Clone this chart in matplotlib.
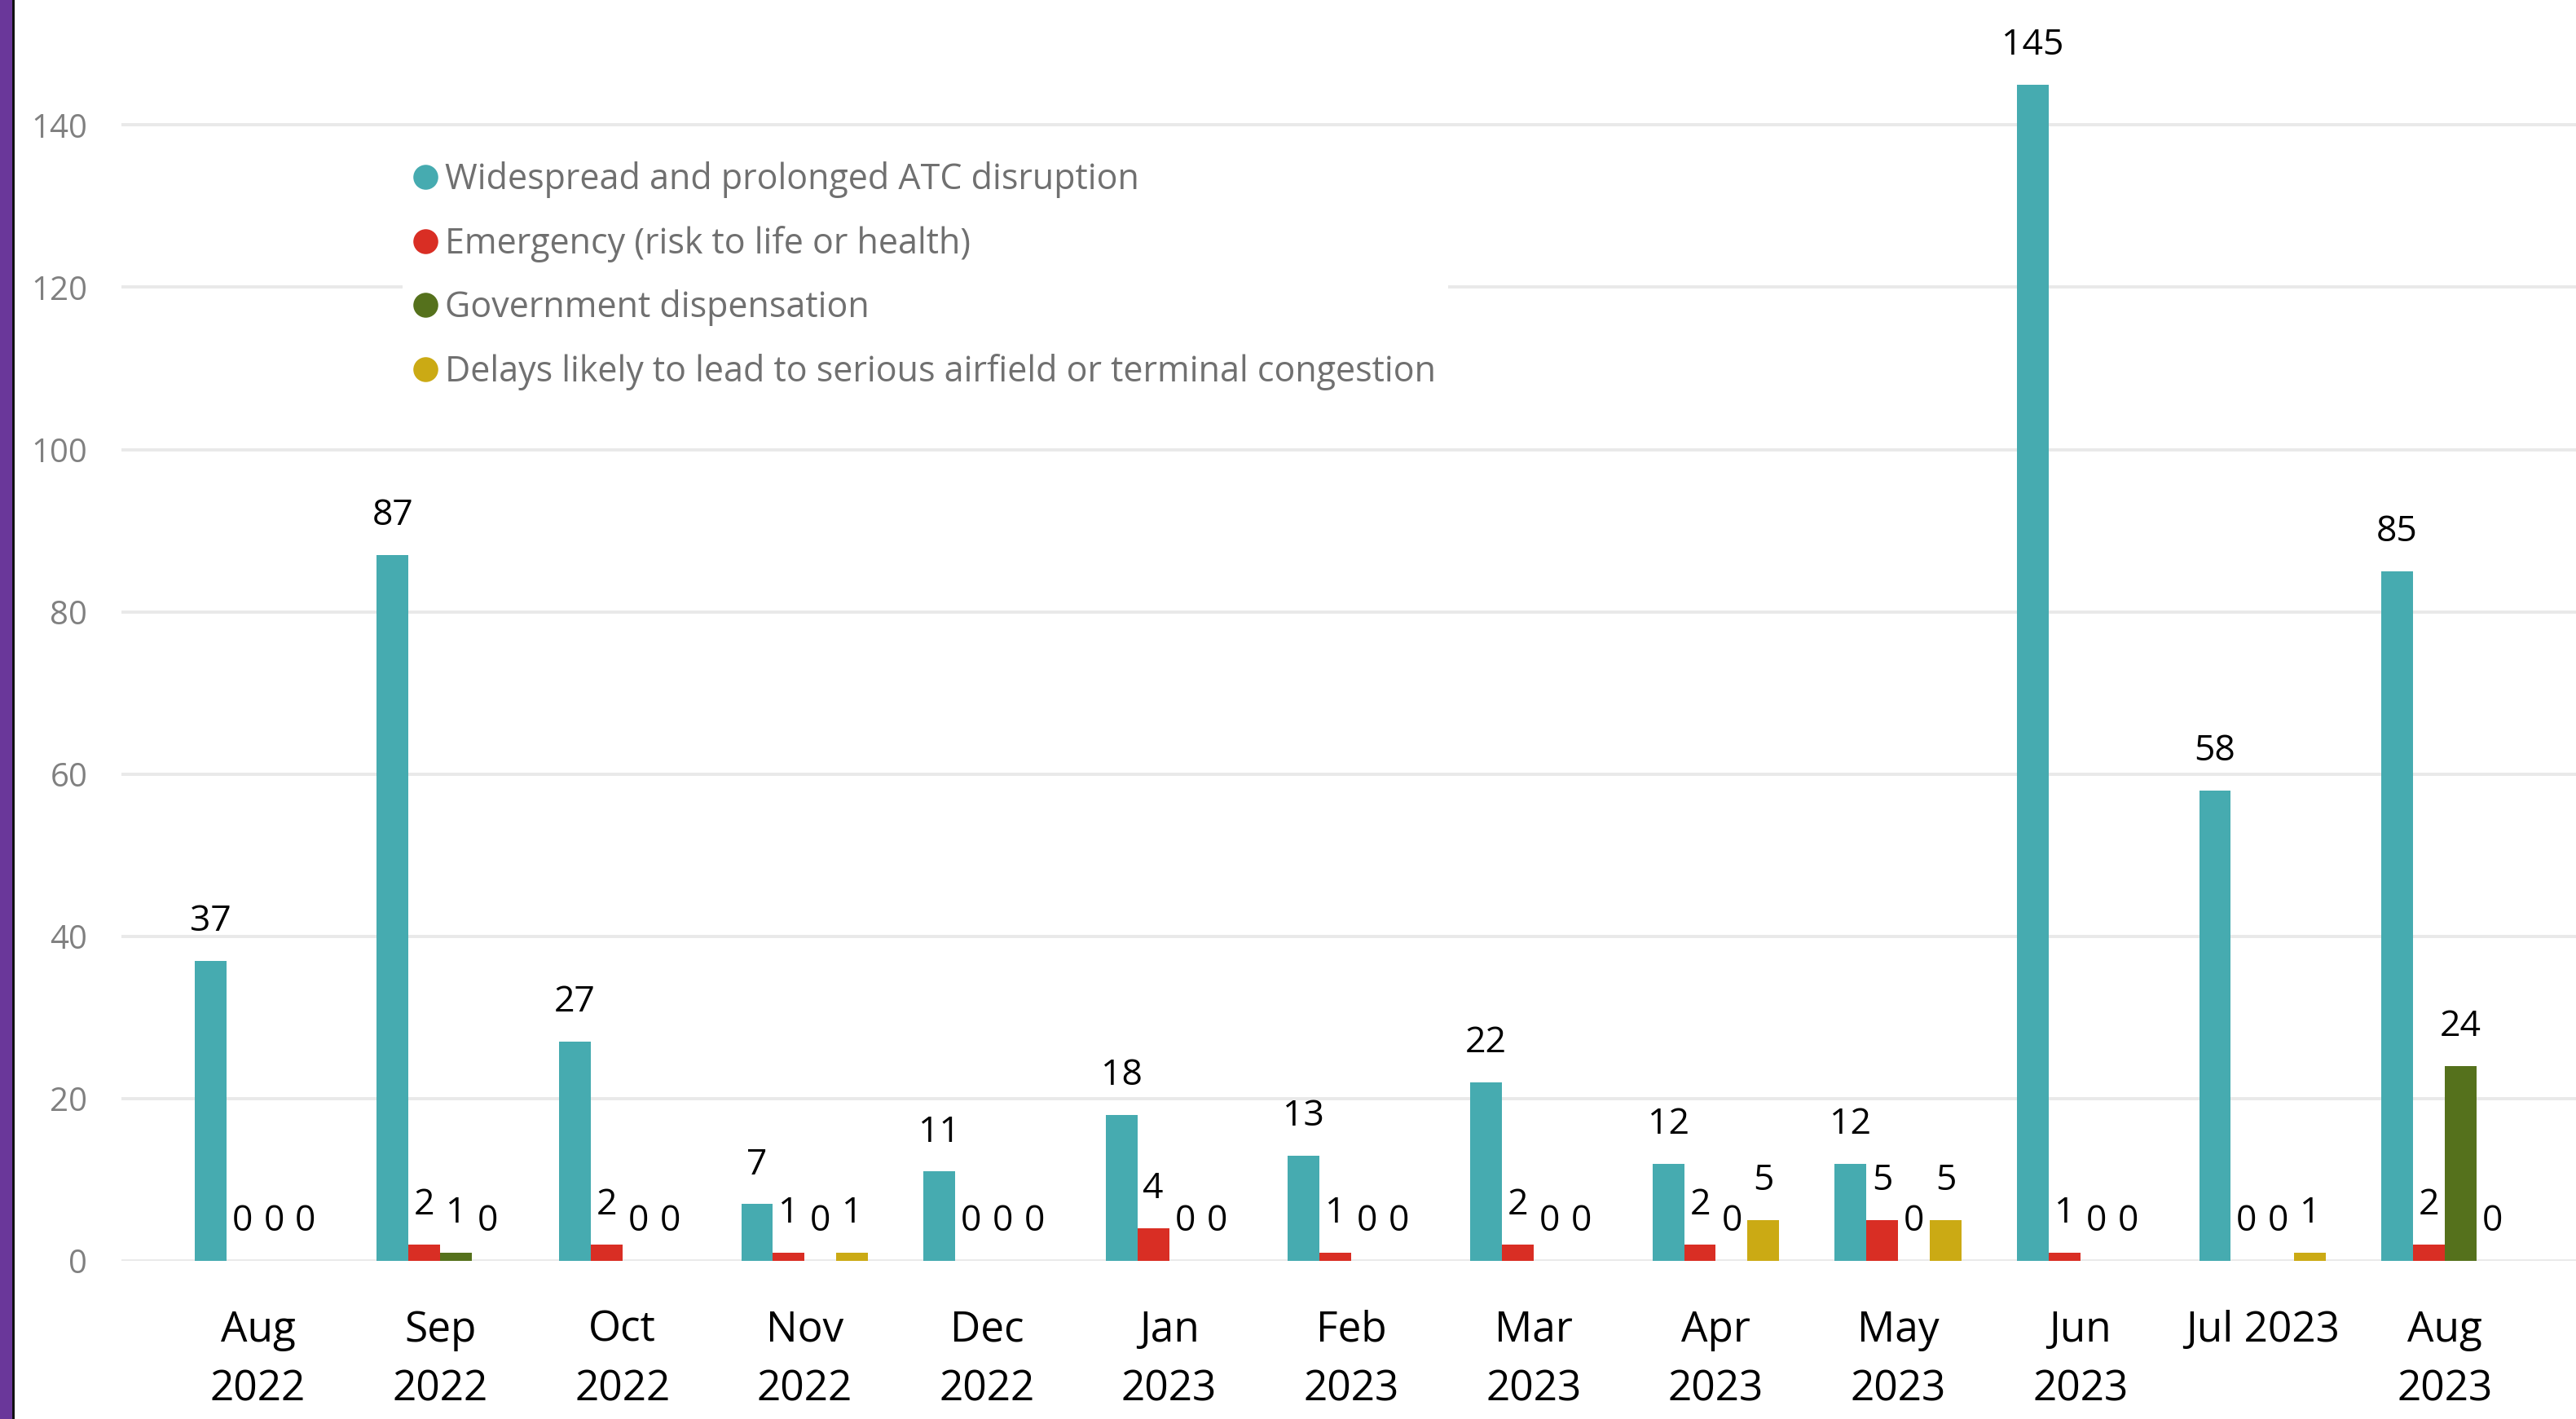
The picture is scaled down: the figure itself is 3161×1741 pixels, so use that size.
import matplotlib
matplotlib.use('Agg')
import matplotlib.pyplot as plt
from matplotlib.lines import Line2D
from matplotlib.patches import Rectangle
import numpy as np

months = ["Aug\n2022", "Sep\n2022", "Oct\n2022", "Nov\n2022", "Dec\n2022",
          "Jan\n2023", "Feb\n2023", "Mar\n2023", "Apr\n2023", "May\n2023",
          "Jun\n2023", "Jul 2023", "Aug\n2023"]
series_names = ["Widespread and prolonged ATC disruption",
                "Emergency (risk to life or health)",
                "Government dispensation",
                "Delays likely to lead to serious airfield or terminal congestion"]
widespread = [37, 87, 27, 7, 11, 18, 13, 22, 12, 12, 145, 58, 85]
emergency = [0, 2, 2, 1, 0, 4, 1, 2, 2, 5, 1, 0, 2]
government = [0, 1, 0, 0, 0, 0, 0, 0, 0, 0, 0, 0, 24]
delays = [0, 0, 0, 1, 0, 0, 0, 0, 5, 5, 0, 1, 0]
yticks = [0, 20, 40, 60, 80, 100, 120, 140]

colors = ["#46ABB0", "#D92E24", "#55711C", "#CBAA14"]
FONT = "Open Sans"
plt.rcParams['font.family'] = [FONT, 'DejaVu Sans']

W, H = 3161, 1741
fig = plt.figure(figsize=(W / 100, H / 100), dpi=100)
ax = fig.add_axes([149 / W, 1 - 1547 / H, 1 - 149 / W, 1547 / H])

series = [widespread, emergency, government, delays]
x = np.arange(len(months))
bw = 0.174
for k, (vals, c) in enumerate(zip(series, colors)):
    xs = x + (k - 1.5) * bw
    ax.bar(xs, vals, width=bw, color=c, zorder=3, linewidth=0)
    for xi, v in zip(xs, vals):
        ax.annotate(str(v), (xi, v), xytext=(0, 26.5), textcoords='offset points',
                    ha='center', va='baseline', fontsize=32, color='black', zorder=5)

ax.set_xlim(-0.749, 12.72)
ax.set_ylim(0, 155.4)
ax.set_yticks(yticks)
ax.set_xticks(x)
ax.set_xticklabels(months, fontsize=37, color='black', linespacing=1.55)
ax.tick_params(axis='x', length=0, pad=43)
ax.tick_params(axis='y', length=0, pad=30, labelsize=29, labelcolor='#808080')
ax.yaxis.grid(True, color='#E9E9E9', linewidth=2.8, zorder=0)
ax.set_axisbelow(True)
for s in ax.spines.values():
    s.set_visible(False)

handles = [Line2D([], [], marker='o', linestyle='none', markersize=22,
                  markerfacecolor=c, markeredgecolor='none') for c in colors]
leg = ax.legend(handles, series_names, loc='upper left',
                bbox_to_anchor=(494 / W, 1 - 183 / H), bbox_transform=fig.transFigure,
                frameon=True, facecolor='white', edgecolor='none', framealpha=1,
                fancybox=False, fontsize=31, labelcolor='#707070',
                handlelength=0.6, handletextpad=0.25, labelspacing=0.78,
                borderpad=0.35, borderaxespad=0)
leg.set_zorder(4)

fig.patches.append(Rectangle((0, 0), 15 / W, 1, transform=fig.transFigure,
                             facecolor='#6A379A', edgecolor='none'))
fig.patches.append(Rectangle((15 / W, 0), 3 / W, 1, transform=fig.transFigure,
                             facecolor='#111111', edgecolor='none'))

fig.savefig('out.png', dpi=100, facecolor='white')
